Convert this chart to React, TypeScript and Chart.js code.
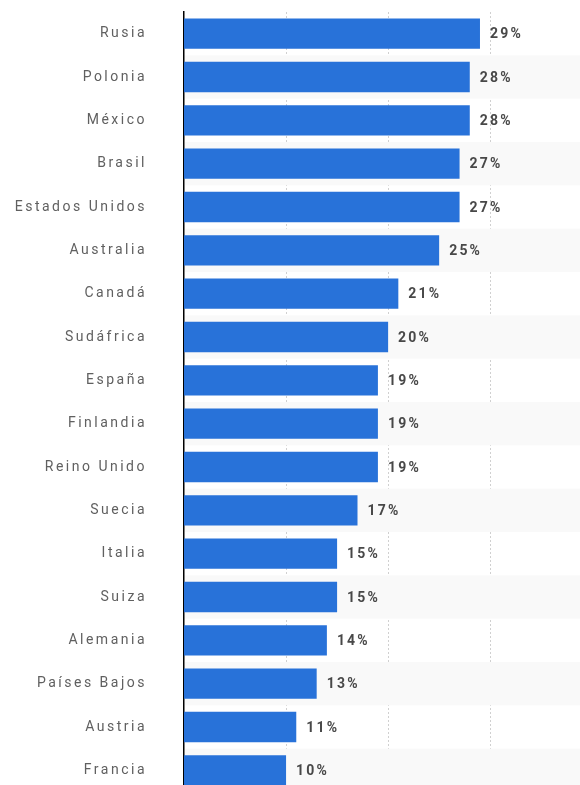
import React, { useEffect, useRef } from "react";
import { Chart, registerables } from "chart.js";

Chart.register(...registerables);

const categories = [
  "Rusia", "Polonia", "México", "Brasil", "Estados Unidos", "Australia",
  "Canadá", "Sudáfrica", "España", "Finlandia", "Reino Unido", "Suecia",
  "Italia", "Suiza", "Alemania", "Países Bajos", "Austria", "Francia",
];
const values = [29, 28, 28, 27, 27, 25, 21, 20, 19, 19, 19, 17, 15, 15, 14, 13, 11, 10];
const gridTicks = [10, 20, 30];

const stripes = {
  id: "stripes",
  beforeDatasetsDraw(chart: any) {
    const { ctx, chartArea, scales } = chart;
    const y = scales.y;
    const h = (chartArea.bottom - chartArea.top) / categories.length;
    ctx.save();
    ctx.fillStyle = "#f9f9f9";
    categories.forEach((_, i) => {
      if (i % 2 === 1) {
        const c = y.getPixelForValue(i);
        ctx.fillRect(chartArea.left + 1, c - h / 2, chartArea.right - chartArea.left, h);
      }
    });
    ctx.restore();
  },
};

const spacing = {
  id: "spacing",
  beforeDraw(chart: any) {
    (chart.ctx as any).letterSpacing = "2.5px";
  },
  afterDraw(chart: any) {
    (chart.ctx as any).letterSpacing = "0px";
  },
};

const valueLabels = {
  id: "valueLabels",
  afterDatasetsDraw(chart: any) {
    const { ctx } = chart;
    const meta = chart.getDatasetMeta(0);
    ctx.save();
    (ctx as any).letterSpacing = "2.2px";
    ctx.font = "bold 14px Roboto";
    ctx.fillStyle = "#484848";
    ctx.textAlign = "left";
    ctx.textBaseline = "middle";
    meta.data.forEach((bar: any, i: number) => {
      ctx.fillText(values[i] + "%", bar.x + 10, bar.y + 1);
    });
    ctx.restore();
  },
};

export default function App() {
  const ref = useRef<HTMLCanvasElement>(null);
  useEffect(() => {
    document.body.style.margin = "0";
    const chart = new Chart(ref.current!, {
      type: "bar",
      data: {
        labels: categories,
        datasets: [
          {
            data: values,
            backgroundColor: "#2872d9",
            borderWidth: 0,
            categoryPercentage: 0.7,
            barPercentage: 1,
          },
        ],
      },
      options: {
        indexAxis: "y",
        animation: false,
        responsive: false,
        layout: { padding: { top: 12, right: 0, bottom: 0, left: 0 } },
        plugins: { legend: { display: false }, tooltip: { enabled: false } },
        scales: {
          x: {
            min: 0,
            max: 38.8,
            afterBuildTicks: (axis: any) => {
              axis.ticks = gridTicks.map((v) => ({ value: v }));
            },
            afterFit: (axis: any) => {
              axis.height = 0;
              axis.paddingLeft = 0;
              axis.paddingRight = 0;
            },
            ticks: { display: false },
            grid: { color: "#d0d0d0", lineWidth: 1, drawTicks: false },
            border: { display: false, dash: [2, 2] },
          },
          y: {
            afterFit: (axis: any) => {
              axis.width = 184;
              axis.paddingTop = 0;
              axis.paddingBottom = 0;
            },
            grid: { display: false, drawTicks: false },
            border: { display: true, color: "#000000", width: 1.5 },
            ticks: {
              color: "#606060",
              font: { family: "Roboto", size: 14 },
              padding: 37,
            },
          },
        },
      },
      plugins: [stripes, spacing, valueLabels],
    });
    return () => chart.destroy();
  }, []);
  return (
    <div style={{ width: 580, height: 785, overflow: "hidden" }}>
      <canvas ref={ref} width={580} height={792} style={{ display: "block" }} />
    </div>
  );
}
